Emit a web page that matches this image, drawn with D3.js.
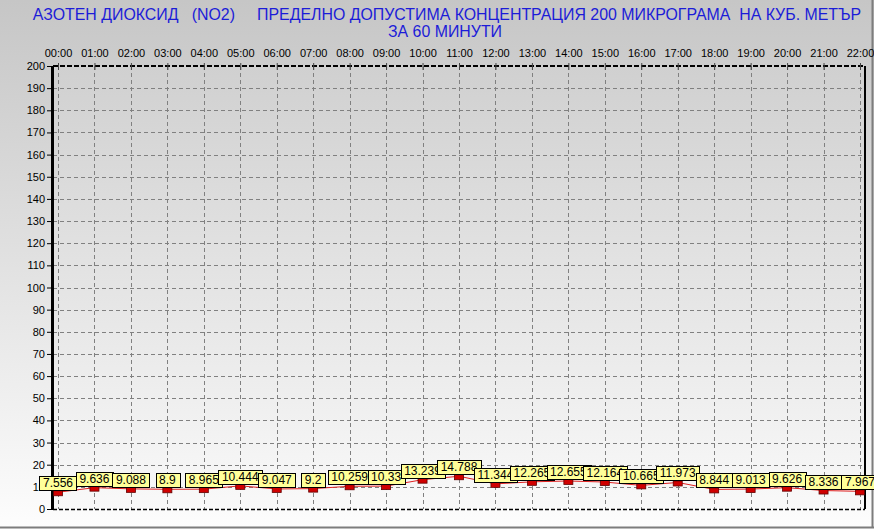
<!DOCTYPE html>
<html><head><meta charset="utf-8">
<script src="https://cdn.jsdelivr.net/npm/d3@7/dist/d3.min.js"></script>
<style>html,body{margin:0;padding:0;background:#fff;}svg{display:block;}</style>
</head><body>
<script>
const hours = ["00:00","01:00","02:00","03:00","04:00","05:00","06:00","07:00","08:00","09:00","10:00","11:00","12:00","13:00","14:00","15:00","16:00","17:00","18:00","19:00","20:00","21:00","22:00"];
const values = [7.556,9.636,9.088,8.9,8.965,10.444,9.047,9.2,10.259,10.33,13.239,14.788,11.344,12.265,12.655,12.164,10.665,11.973,8.844,9.013,9.626,8.336,7.967];
const valueLabels = ["7.556","9.636","9.088","8.9","8.965","10.444","9.047","9.2","10.259","10.33","13.239","14.788","11.344","12.265","12.655","12.164","10.665","11.973","8.844","9.013","9.626","8.336","7.967"];
const yTicks = d3.range(0, 201, 10);
const titleLine1 = "АЗОТЕН ДИОКСИД   (NO2)     ПРЕДЕЛНО ДОПУСТИМА КОНЦЕНТРАЦИЯ 200 МИКРОГРАМА  НА КУБ. МЕТЪР";
const titleLine2 = "ЗА 60 МИНУТИ";

const W = 874, H = 529;
const plot = {left: 53, right: 865, top: 66, bottom: 509};

const svg = d3.select("body").append("svg").attr("width", W).attr("height", H)
  .style("font-family", "Arial, 'Liberation Sans', sans-serif");
const defs = svg.append("defs");
const g1 = defs.append("linearGradient").attr("id","bg").attr("x1",0).attr("y1",0).attr("x2",0).attr("y2",1);
g1.append("stop").attr("offset","0%").attr("stop-color","#c6c6c6");
g1.append("stop").attr("offset","100%").attr("stop-color","#fdfdfd");
const g2 = defs.append("linearGradient").attr("id","pbg").attr("x1",0).attr("y1",0).attr("x2",0).attr("y2",1);
g2.append("stop").attr("offset","0%").attr("stop-color","#d0d0d0");
g2.append("stop").attr("offset","100%").attr("stop-color","#f9f9f9");

svg.append("rect").attr("width", W).attr("height", H).attr("fill","url(#bg)");
// outer border
svg.append("line").attr("x1",0).attr("x2",W).attr("y1",527.5).attr("y2",527.5).attr("stroke","#7d7d7d").attr("stroke-width",2);
svg.append("line").attr("x1",872.5).attr("x2",872.5).attr("y1",0).attr("y2",528).attr("stroke","#7d7d7d").attr("stroke-width",2);

svg.append("rect").attr("x",plot.left).attr("y",plot.top).attr("width",plot.right-plot.left).attr("height",plot.bottom-plot.top).attr("fill","url(#pbg)");

const x = d3.scalePoint().domain(hours).range([plot.left+5, plot.right-5]);
const y = d3.scaleLinear().domain([0,200]).range([plot.bottom, plot.top]);

// grid
const grid = svg.append("g").attr("stroke","#808080").attr("stroke-width",1).attr("stroke-dasharray","4,3");
grid.selectAll("line.v").data(hours).join("line")
  .attr("x1", d => Math.round(x(d))+0.5).attr("x2", d => Math.round(x(d))+0.5)
  .attr("y1", plot.top).attr("y2", plot.bottom);
grid.selectAll("line.h").data(yTicks.filter(t => t>0 && t<200)).join("line")
  .attr("x1", plot.left).attr("x2", plot.right)
  .attr("y1", d => Math.round(y(d))+0.5).attr("y2", d => Math.round(y(d))+0.5);

// borders
svg.append("line").attr("x1",plot.left).attr("x2",plot.right).attr("y1",plot.top).attr("y2",plot.top)
  .attr("stroke","#000").attr("stroke-width",2).attr("stroke-dasharray","5,2");
svg.append("line").attr("x1",plot.left).attr("x2",plot.right).attr("y1",plot.bottom+0.5).attr("y2",plot.bottom+0.5)
  .attr("stroke","#000").attr("stroke-width",1.5).attr("stroke-dasharray","4,2");
svg.append("line").attr("x1",plot.right).attr("x2",plot.right).attr("y1",plot.top).attr("y2",plot.bottom)
  .attr("stroke","#000").attr("stroke-width",2);

// y axis
const yAxis = d3.axisLeft(y).tickValues(yTicks).tickSize(5).tickPadding(2).tickFormat(d3.format("d"));
const ya = svg.append("g").attr("transform", `translate(${plot.left-1},0)`).call(yAxis);
ya.select(".domain").remove();
ya.selectAll("text").attr("font-size", 11).attr("font-family","Arial, 'Liberation Sans', sans-serif").attr("fill","#000");
ya.selectAll("line").attr("stroke","#000");
svg.append("line").attr("x1",plot.left-0.5).attr("x2",plot.left-0.5).attr("y1",plot.top).attr("y2",plot.bottom+1)
  .attr("stroke","#000").attr("stroke-width",3);

// top axis
const xAxis = d3.axisTop(x).tickSize(3).tickPadding(8);
const xa = svg.append("g").attr("transform", `translate(0,${plot.top+2})`).call(xAxis);
xa.select(".domain").remove();
xa.selectAll("text").attr("font-size", 11).attr("font-family","Arial, 'Liberation Sans', sans-serif").attr("fill","#000");
xa.selectAll("line").attr("stroke","#444").attr("y1",-5).attr("y2",2);

// title
const title = svg.append("g").attr("fill","#1c1cd8").attr("font-size",15.9);
title.append("text").attr("x",447).attr("y",20).attr("text-anchor","middle").style("white-space","pre").text(titleLine1);
title.append("text").attr("x",445).attr("y",37).attr("text-anchor","middle").style("white-space","pre").text(titleLine2);

// line
const line = d3.line().x((d,i) => x(hours[i])).y(d => y(d));
svg.append("path").datum(values).attr("d", line).attr("fill","none").attr("stroke","#e02020").attr("stroke-width",1);

// markers
svg.append("g").selectAll("rect").data(values).join("rect")
  .attr("x",(d,i) => x(hours[i])-4.5).attr("y", d => y(d)-1.5).attr("width",9).attr("height",5)
  .attr("fill","#d00000").attr("stroke","#600000").attr("stroke-width",0.8);

// labels
const lg = svg.append("g");
values.forEach((v,i) => {
  const px = x(hours[i]), py = y(v);
  const gg = lg.append("g");
  const t = gg.append("text").attr("font-size",12).attr("text-anchor","middle")
    .attr("x", px).attr("y", py-5).attr("fill","#000").text(valueLabels[i]);
  const w = t.node().getComputedTextLength() + 7;
  gg.insert("rect","text").attr("x", Math.round(px - w/2)+0.5).attr("y", Math.round(py-16)+0.5)
    .attr("width", Math.round(w)).attr("height", 14).attr("fill","#ffff99").attr("stroke","#000").attr("stroke-width",1);
});
</script>
</body></html>
